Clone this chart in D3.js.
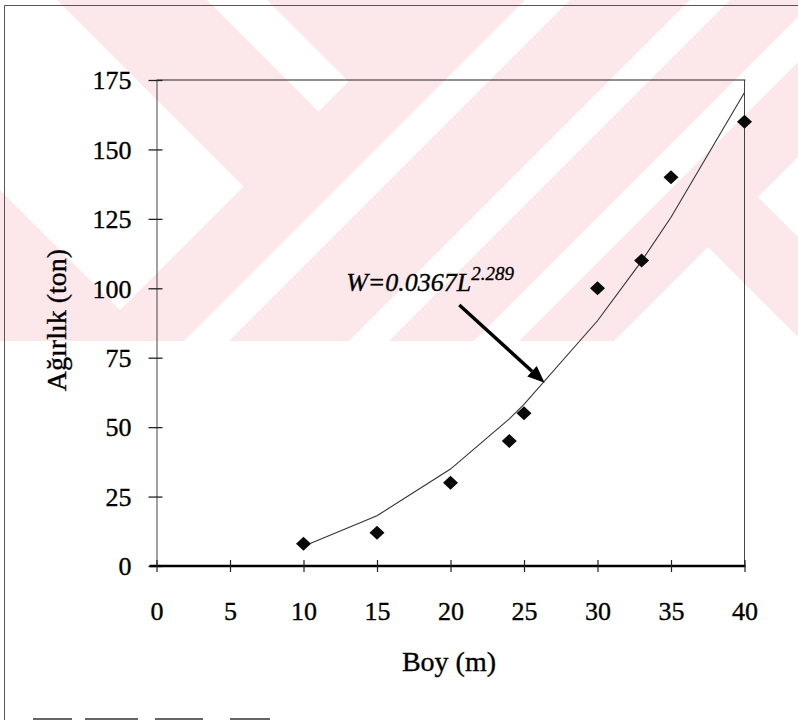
<!DOCTYPE html>
<html>
<head>
<meta charset="utf-8">
<script src="https://cdn.jsdelivr.net/npm/d3@7"></script>
<style>
  body { margin: 0; background: #fff; }
  svg { display: block; }
  text { fill: #000; stroke: #000; stroke-width: 0.35px; }
</style>
</head>
<body>
<svg id="chart" width="798" height="720"></svg>
<script>
// Boy (m) vs Ağırlık (ton)
const boyM = [10, 15, 20, 24, 25, 30, 33, 35, 40];
const agirlikTon = [8, 12, 30, 45, 55, 100, 110, 140, 160];
// trend line W = 0.0367 L^2.289 evaluated at each length
const trendTon = [7.1, 18.1, 34.9, 53.0, 58.2, 88.3, 109.8, 125.6, 170.5];
const xTicks = [0, 5, 10, 15, 20, 25, 30, 35, 40];
const yTicks = [0, 25, 50, 75, 100, 125, 150, 175];
const xTitle = "Boy (m)";
const yTitle = "Ağırlık (ton)";
const eqMain = "W=0.0367L";
const eqExp = "2.289";

const W = 798, H = 720;
const serif = "'Liberation Serif', 'Times New Roman', serif";
const svg = d3.select("#chart");

// background watermark: pink field with diagonal white bands
const pink = "#fce8eb";
const wm = svg.append("g");
svg.append("defs").append("clipPath").attr("id", "wmclip")
  .append("rect").attr("x", 0).attr("y", 0).attr("width", W).attr("height", 341);
wm.attr("clip-path", "url(#wmclip)");
wm.append("rect").attr("x", 0).attr("y", 0).attr("width", W).attr("height", 341).attr("fill", pink);
// bands given in rotated coordinates s = x + y, d = x - y
function band(s1, s2, d1, d2) {
  return [[s1, d1], [s1, d2], [s2, d2], [s2, d1]].map(([s, d]) => [(s + d) / 2, (s - d) / 2]);
}
const whiteBands = [
  band(-2000, 430, -190, 57),
  band(-2000, 430, 207, 267),
  band(525, 570, -3000, 3000),
  band(690, 730, -3000, 3000),
  band(815, 860, -3000, 3000),
  band(955, 4000, -3000, 461),
  band(955, 4000, 561, 3000)
];
wm.selectAll("path.wb").data(whiteBands).join("path")
  .attr("class", "wb")
  .attr("d", p => d3.line()(p) + "Z")
  .attr("fill", "#fff");

// outer frame
svg.append("path").attr("d", "M4.5,720 V5.5 H798")
  .attr("fill", "none").attr("stroke", "#555").attr("stroke-width", 1);
// top of the following line of text, cut by the page edge
[[33, 72], [85, 138], [155, 203], [230, 270]].forEach(([a, b]) => {
  svg.append("line").attr("x1", a).attr("x2", b).attr("y1", 719).attr("y2", 719)
    .attr("stroke", "#666").attr("stroke-width", 2);
});

const x = d3.scaleLinear().domain([0, 40]).range([156.5, 744.5]);
const y = d3.scaleLinear().domain([0, 175]).range([566, 80]);

// plot frame (top and right)
svg.append("line").attr("x1", x(0)).attr("x2", x(40) + 1).attr("y1", y(175)).attr("y2", y(175))
  .attr("stroke", "#222").attr("stroke-width", 1.2);
svg.append("line").attr("x1", x(40)).attr("x2", x(40)).attr("y1", y(175)).attr("y2", y(0))
  .attr("stroke", "#444").attr("stroke-width", 1);

// y axis
const gy = svg.append("g").attr("transform", `translate(${x(0)},0)`)
  .call(d3.axisLeft(y).tickValues(yTicks).tickSizeOuter(0).tickSizeInner(7));
gy.select(".domain").attr("stroke", "#444").attr("stroke-width", 1);
gy.selectAll(".tick line").attr("x1", 6).attr("x2", -8).attr("stroke", "#222").attr("stroke-width", 1.3);
gy.selectAll(".tick text").attr("x", -25).attr("dy", "0.34em")
  .style("font-family", serif).style("font-size", "26px");

// x axis
const gx = svg.append("g").attr("transform", `translate(0,${y(0)})`)
  .call(d3.axisBottom(x).tickValues(xTicks).tickSizeOuter(0).tickSizeInner(6));
gx.select(".domain").remove();
gx.insert("line", ":first-child").attr("x1", x(0) - 7).attr("x2", x(40) + 1).attr("y1", 0).attr("y2", 0)
  .attr("stroke", "#000").attr("stroke-width", 2.6);
gx.selectAll(".tick line").attr("y1", -6).attr("y2", 6).attr("stroke", "#222").attr("stroke-width", 1.2);
gx.selectAll(".tick text").attr("y", 54).attr("dy", 0)
  .style("font-family", serif).style("font-size", "26px");

// axis titles
svg.append("text").attr("x", 449).attr("y", 671).attr("text-anchor", "middle")
  .style("font-family", serif).style("font-size", "28px").text(xTitle);
svg.append("text").attr("transform", "translate(66,320) rotate(-90)").attr("text-anchor", "middle")
  .style("font-family", serif).style("font-size", "28px").text(yTitle);

// trend line
const pts = boyM.map((b, i) => ({ b, w: agirlikTon[i], t: trendTon[i] }));
svg.append("path").datum(pts)
  .attr("d", d3.line().x(d => x(d.b)).y(d => y(d.t)))
  .attr("fill", "none").attr("stroke", "#333").attr("stroke-width", 1.1);

// data points as diamonds
svg.selectAll("path.pt").data(pts).join("path")
  .attr("class", "pt")
  .attr("transform", d => `translate(${x(d.b)},${y(d.w)})`)
  .attr("d", "M0,-7 L7.5,0 L0,7 L-7.5,0 Z")
  .attr("fill", "#0a0a0a");

// equation label with arrow
const eq = svg.append("text").attr("x", x(12.9)).attr("y", y(99))
  .style("font-family", serif).style("font-style", "italic").style("font-size", "26px");
eq.append("tspan").text(eqMain);
eq.append("tspan").attr("dy", -11).style("font-size", "19px").text(eqExp);

const a0 = [x(20.6), y(94)], a1 = [x(26.4), y(66)];
const ang = Math.atan2(a1[1] - a0[1], a1[0] - a0[0]);
const headL = 17, headW = 7;
const base = [a1[0] - headL * Math.cos(ang), a1[1] - headL * Math.sin(ang)];
svg.append("line").attr("x1", a0[0]).attr("y1", a0[1]).attr("x2", base[0]).attr("y2", base[1])
  .attr("stroke", "#000").attr("stroke-width", 3.4);
svg.append("path").attr("d", d3.line()([
  a1,
  [base[0] + headW * Math.sin(ang), base[1] - headW * Math.cos(ang)],
  [base[0] - headW * Math.sin(ang), base[1] + headW * Math.cos(ang)]
]) + "Z").attr("fill", "#000");
</script>
</body>
</html>
